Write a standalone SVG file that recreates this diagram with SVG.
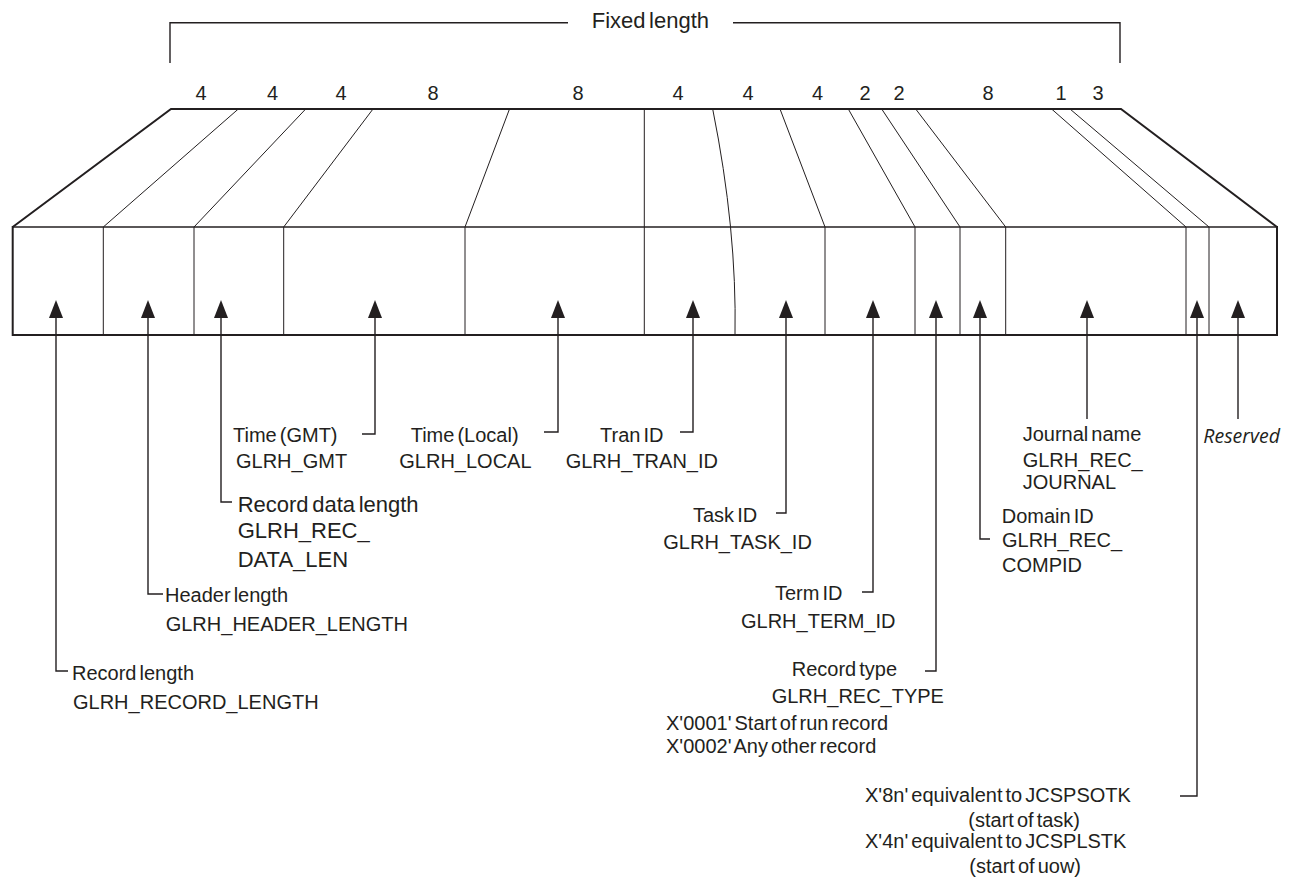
<svg xmlns="http://www.w3.org/2000/svg" width="1293" height="882" viewBox="0 0 1293 882">
<defs>
<style>
.t{font-family:"Liberation Sans",Arial,Helvetica,sans-serif;font-size:20px;fill:#231f20;word-spacing:-2.5px}
.t22{font-size:22px}
.num{text-anchor:middle}
.res{font-family:"Open Sans","Noto Sans",sans-serif;font-style:italic;font-size:19.5px;fill:#231f20}
.thick{fill:none;stroke:#231f20;stroke-width:2}
.mid{fill:none;stroke:#231f20;stroke-width:1.4}
.thin{fill:none;stroke:#231f20;stroke-width:1}
.con{fill:none;stroke:#231f20;stroke-width:1.4}
</style>
<marker id="ah" viewBox="0 0 18 14" refX="0" refY="7" markerWidth="18" markerHeight="14" markerUnits="userSpaceOnUse" orient="auto">
<path d="M0,0 L18,7 L0,14 z" fill="#231f20"/>
</marker>
</defs>
<rect width="1293" height="882" fill="#ffffff"/>

<g id="fixed-length">
<path class="mid" d="M170,63 V22.7 H568"/>
<path class="mid" d="M733,22.7 H1120 V63"/>
<text class="t t22" x="591.7" y="27.7">Fixed length</text>
</g>

<g id="sizes">
<text class="t num" x="201" y="100">4</text>
<text class="t num" x="272.5" y="100">4</text>
<text class="t num" x="341" y="100">4</text>
<text class="t num" x="433" y="100">8</text>
<text class="t num" x="578" y="100">8</text>
<text class="t num" x="678" y="100">4</text>
<text class="t num" x="748" y="100">4</text>
<text class="t num" x="817.5" y="100">4</text>
<text class="t num" x="865" y="100">2</text>
<text class="t num" x="899" y="100">2</text>
<text class="t num" x="988" y="100">8</text>
<text class="t num" x="1061" y="100">1</text>
<text class="t num" x="1098" y="100">3</text>
</g>

<g id="record">
<path class="thick" d="M12.7,227 L171,109 H1121 L1277,227"/>
<path class="mid" d="M12.7,227 H1277"/>
<path class="thick" d="M12.7,226 V335 H1277 V226"/>
<g class="thin">
<path d="M238.3,109 L103.3,227 V335"/>
<path d="M305.7,109 L194,227 V335"/>
<path d="M373,109 L283.7,227 V335"/>
<path d="M509.5,109 L465,227 V335"/>
<path d="M644.3,109 V335"/>
<path d="M712.7,109 Q737,230 735,335"/>
<path d="M780,109 L825,227 V335"/>
<path d="M848.3,109 L915,227 V335"/>
<path d="M881.7,109 L960,227 V335"/>
<path d="M915.7,109 L1005.7,227 V335"/>
<path d="M1051.6,109 L1186,227 V335"/>
<path d="M1070,109 L1209,227 V335"/>
</g>
</g>

<g id="connectors" class="con">
<path d="M68,671 H56 V318" marker-end="url(#ah)"/>
<path d="M163,594 H148 V318" marker-end="url(#ah)"/>
<path d="M232,502 H221 V318" marker-end="url(#ah)"/>
<path d="M362,434 H375 V318" marker-end="url(#ah)"/>
<path d="M544,432 H558 V318" marker-end="url(#ah)"/>
<path d="M680,432 H693 V318" marker-end="url(#ah)"/>
<path d="M776,513 H786 V318" marker-end="url(#ah)"/>
<path d="M862,592 H873 V318" marker-end="url(#ah)"/>
<path d="M925,671 H936 V318" marker-end="url(#ah)"/>
<path d="M990,539 H980 V318" marker-end="url(#ah)"/>
<path d="M1087,419 V318" marker-end="url(#ah)"/>
<path d="M1180,796 H1197 V318" marker-end="url(#ah)"/>
<path d="M1238,419 V318" marker-end="url(#ah)"/>
</g>

<g id="record-length">
<text class="t" x="72" y="680">Record length</text>
<text class="t" x="73" y="709">GLRH_RECORD_LENGTH</text>
</g>
<g id="header-length">
<text class="t" x="165" y="601.7">Header length</text>
<text class="t" x="165.7" y="631">GLRH_HEADER_LENGTH</text>
</g>
<g id="record-data-length">
<text class="t t22" x="237.7" y="511.7">Record data length</text>
<text class="t t22" x="237.7" y="538.3">GLRH_REC_</text>
<text class="t t22" x="237.7" y="566.7">DATA_LEN</text>
</g>
<g id="time-gmt">
<text class="t" x="233" y="442">Time (GMT)</text>
<text class="t" x="236" y="468.3">GLRH_GMT</text>
</g>
<g id="time-local">
<text class="t" x="410.7" y="442">Time (Local)</text>
<text class="t" x="399.3" y="468.3">GLRH_LOCAL</text>
</g>
<g id="tran-id">
<text class="t" x="600" y="442">Tran ID</text>
<text class="t" x="565.7" y="468.3">GLRH_TRAN_ID</text>
</g>
<g id="task-id">
<text class="t" x="693" y="522.3">Task ID</text>
<text class="t" x="663.3" y="549.3">GLRH_TASK_ID</text>
</g>
<g id="term-id">
<text class="t" x="775" y="600">Term ID</text>
<text class="t" x="741" y="628.3">GLRH_TERM_ID</text>
</g>
<g id="record-type">
<text class="t" x="791.7" y="676">Record type</text>
<text class="t" x="771.7" y="703.3">GLRH_REC_TYPE</text>
<text class="t" x="666" y="730">X'0001' Start of run record</text>
<text class="t" x="666" y="753.3">X'0002' Any other record</text>
</g>
<g id="domain-id">
<text class="t" x="1001.7" y="523.3">Domain ID</text>
<text class="t" x="1002" y="546.7">GLRH_REC_</text>
<text class="t" x="1002" y="571.7">COMPID</text>
</g>
<g id="journal-name">
<text class="t" x="1022.7" y="441">Journal name</text>
<text class="t" x="1022.7" y="466.7">GLRH_REC_</text>
<text class="t" x="1022.7" y="489.3">JOURNAL</text>
</g>
<g id="reserved">
<text class="res" x="1203.3" y="443.3">Reserved</text>
</g>
<g id="task-flags">
<text class="t" x="865" y="801.7">X'8n' equivalent to JCSPSOTK</text>
<text class="t" x="968.3" y="826.5">(start of task)</text>
<text class="t" x="865" y="848">X'4n' equivalent to JCSPLSTK</text>
<text class="t" x="969.3" y="873.3">(start of uow)</text>
</g>
</svg>
